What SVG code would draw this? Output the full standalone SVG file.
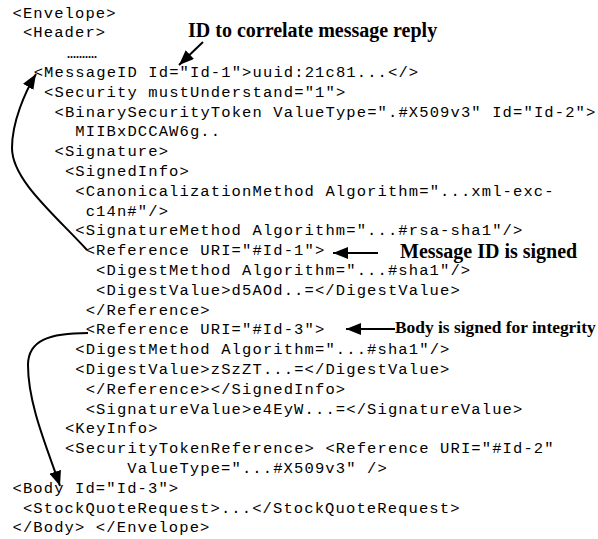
<svg xmlns="http://www.w3.org/2000/svg" width="598" height="539" viewBox="0 0 598 539">
  <style>
    .code { font-family: "Courier New", "Liberation Mono", monospace; font-size: 15.5px; letter-spacing: 1.12px; fill: #000; }
    .label { font-family: "Times New Roman", "Liberation Serif", serif; font-weight: bold; fill: #000; }
    .conn { fill: none; stroke: #000; stroke-width: 2; }
  </style>
  <defs>
    <marker id="arrow" markerUnits="userSpaceOnUse" markerWidth="16" markerHeight="12" refX="15" refY="6" orient="auto">
      <path d="M0,0 L15,6 L0,12 z" fill="#000"/>
    </marker>
  </defs>
  <rect width="598" height="539" fill="#fff"/>

  <!-- SOAP message listing -->
  <g id="listing" class="code">
    <text x="12.5" y="17.5">&lt;Envelope&gt;</text>
    <text x="22.9" y="37.3">&lt;Header&gt;</text>
    <text x="33.7" y="76.9">&lt;MessageID Id="Id-1"&gt;uuid:21c81...&lt;/&gt;</text>
    <text x="44.1" y="96.7">&lt;Security mustUnderstand="1"&gt;</text>
    <text x="54.5" y="116.5">&lt;BinarySecurityToken ValueType=".#X509v3" Id="Id-2"&gt;</text>
    <text x="75.3" y="136.3">MIIBxDCCAW6g..</text>
    <text x="54.5" y="156.1">&lt;Signature&gt;</text>
    <text x="64.9" y="175.9">&lt;SignedInfo&gt;</text>
    <text x="75.3" y="195.7">&lt;CanonicalizationMethod Algorithm="...xml-exc-</text>
    <text x="85.7" y="215.5">c14n#"/&gt;</text>
    <text x="75.3" y="235.3">&lt;SignatureMethod Algorithm="...#rsa-sha1"/&gt;</text>
    <text x="85.7" y="255.1">&lt;Reference URI="#Id-1"&gt;</text>
    <text x="96.1" y="274.9">&lt;DigestMethod Algorithm="...#sha1"/&gt;</text>
    <text x="96.1" y="294.7">&lt;DigestValue&gt;d5AOd..=&lt;/DigestValue&gt;</text>
    <text x="85.7" y="314.5">&lt;/Reference&gt;</text>
    <text x="85.7" y="334.3">&lt;Reference URI="#Id-3"&gt;</text>
    <text x="75.3" y="354.1">&lt;DigestMethod Algorithm="...#sha1"/&gt;</text>
    <text x="75.3" y="373.9">&lt;DigestValue&gt;zSzZT...=&lt;/DigestValue&gt;</text>
    <text x="85.7" y="393.7">&lt;/Reference&gt;&lt;/SignedInfo&gt;</text>
    <text x="85.7" y="413.5">&lt;SignatureValue&gt;e4EyW...=&lt;/SignatureValue&gt;</text>
    <text x="64.9" y="433.3">&lt;KeyInfo&gt;</text>
    <text x="64.9" y="453.1">&lt;SecurityTokenReference&gt; &lt;Reference URI="#Id-2"</text>
    <text x="127.3" y="472.9">ValueType="...#X509v3" /&gt;</text>
    <text x="12.5" y="492.7">&lt;Body Id="Id-3"&gt;</text>
    <text x="22.9" y="512.5">&lt;StockQuoteRequest&gt;...&lt;/StockQuoteRequest&gt;</text>
    <text x="12.5" y="532.3">&lt;/Body&gt; &lt;/Envelope&gt;</text>
  </g>
  <text id="ellipsis" class="label" x="67" y="58" font-size="12">..........</text>

  <!-- annotations -->
  <g id="note-correlate">
    <text class="label" x="188" y="37" font-size="20">ID to correlate message reply</text>
  </g>
  <g id="note-msgid-signed">
    <text class="label" x="400" y="258" font-size="20">Message ID is signed</text>
  </g>
  <g id="note-body-signed">
    <text class="label" x="395" y="333" font-size="17.4">Body is signed for integrity</text>
  </g>

  <!-- connectors -->
  <g id="connectors" class="conn">
    <path d="M203,42 L179,65" marker-end="url(#arrow)"/>
    <path d="M378,253 L333,253" marker-end="url(#arrow)"/>
    <path d="M395,329 L346,329" marker-end="url(#arrow)"/>
    <path d="M87,250 C55,215 12,180 12,148 C12,122 25,92 36,74" marker-end="url(#arrow)"/>
    <path d="M88,333 C50,333 28,340 28,365 C28,405 48,450 60,486" marker-end="url(#arrow)"/>
  </g>
</svg>
